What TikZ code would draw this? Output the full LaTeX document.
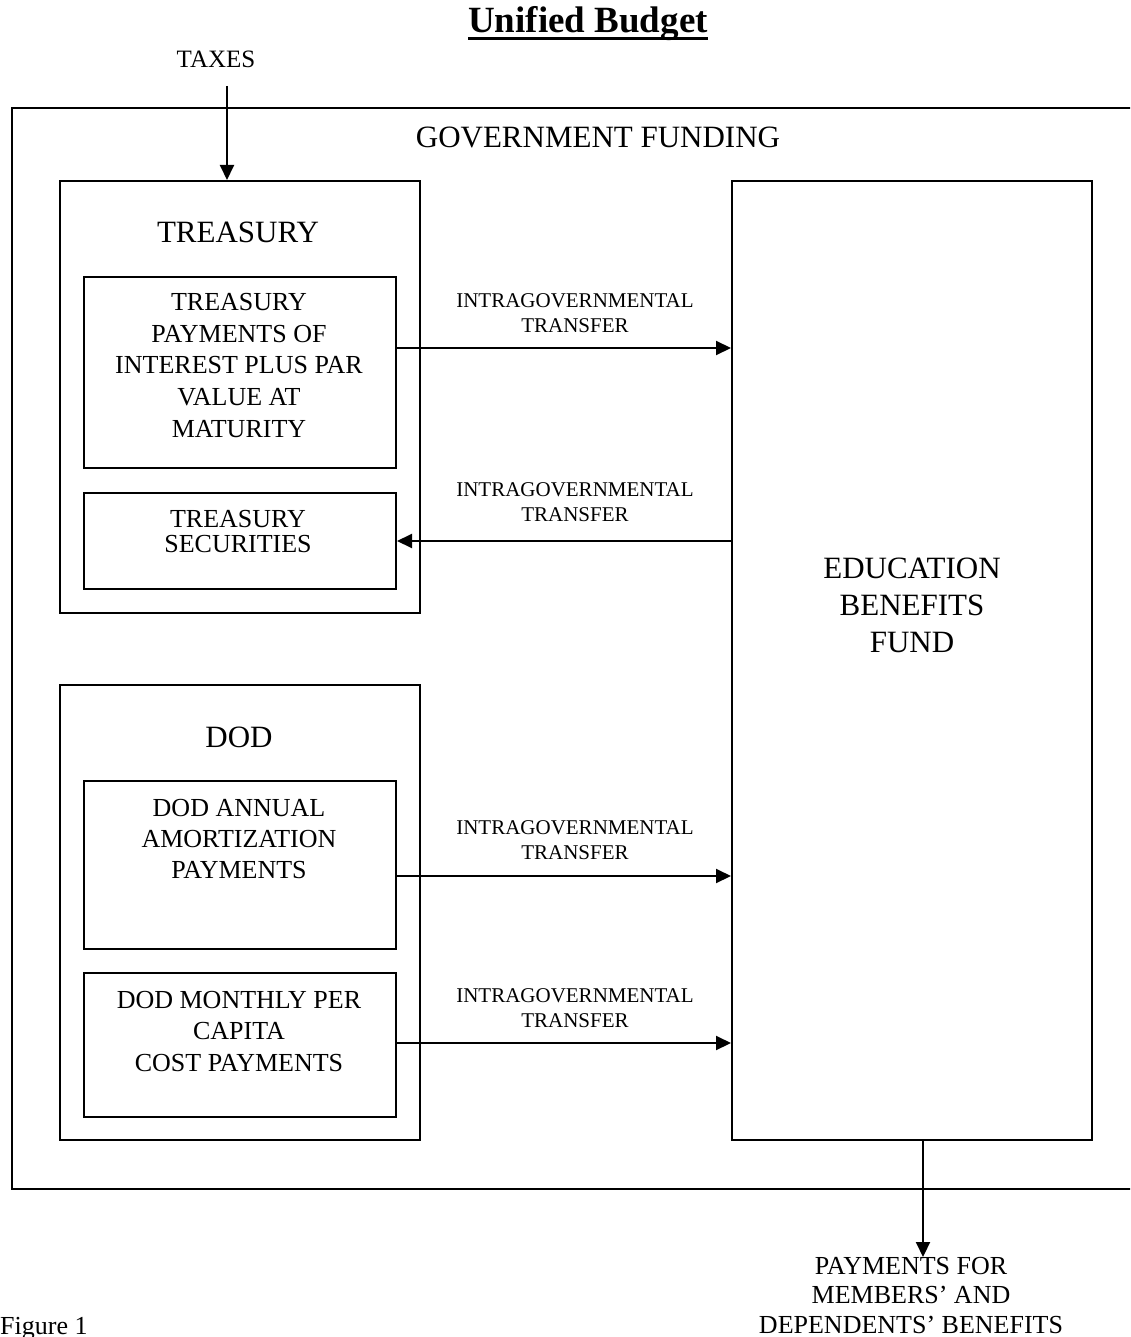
\documentclass[tikz,border=0pt]{standalone}
\usepackage{fontspec}
\setmainfont{Liberation Serif}
\usetikzlibrary{arrows.meta}

\tikzset{
  box/.style={draw, line width=2pt, rectangle, inner sep=0pt, anchor=north west},
  flow/.style={line width=2pt, -{Triangle[length=15pt,width=14pt]}},
  txt/.style={inner sep=0pt, align=center, anchor=north},
  inner text/.style={txt, font=\fontsize{26}{31.7}\selectfont},
  head text/.style={inner sep=0pt, anchor=base, font=\fontsize{31}{37}\selectfont},
  xfer text/.style={txt, font=\fontsize{21}{25.5}\selectfont},
}

\begin{document}
\begin{tikzpicture}[x=1pt, y=-1pt]
\useasboundingbox (0,0) rectangle (1130,1337);
\clip (0,0) rectangle (1130,1337);

% title
\node[inner sep=0pt, anchor=base, font=\fontsize{37}{44}\selectfont\bfseries] (title) at (588,33) {Unified Budget};
\draw[line width=3pt] ([yshift=-6pt]title.base west) -- ([yshift=-6pt]title.base east);

% outer frame (runs past the right edge)
\node[box, minimum width=1150pt, minimum height=1081pt] (gov) at (11,107) {};
\node[head text] (govlbl) at (598,148) {GOVERNMENT FUNDING};

% treasury group
\node[box, minimum width=360pt, minimum height=432pt] (treas) at (59,180) {};
\node[head text] (treaslbl) at (238,243) {TREASURY};
\node[box, minimum width=312pt, minimum height=191pt] (tpay) at (83,276) {};
\node[inner text] (tpaylbl) at (239,293) {TREASURY\\PAYMENTS OF\\INTEREST PLUS PAR\\VALUE AT\\MATURITY};
\node[box, minimum width=312pt, minimum height=96pt] (tsec) at (83,492) {};
\node[inner text, font=\fontsize{26}{25.5}\selectfont] (tseclbl) at (238,510) {TREASURY\\SECURITIES};

% DoD group
\node[box, minimum width=360pt, minimum height=455pt] (dod) at (59,684) {};
\node[head text] (dodlbl) at (239,747) {DOD};
\node[box, minimum width=312pt, minimum height=168pt] (damort) at (83,780) {};
\node[inner text, font=\fontsize{26}{31}\selectfont] (damortlbl) at (239,799) {DOD ANNUAL\\AMORTIZATION\\PAYMENTS};
\node[box, minimum width=312pt, minimum height=144pt] (dmonth) at (83,972) {};
\node[inner text, font=\fontsize{26}{31.5}\selectfont] (dmonthlbl) at (239,991) {DOD MONTHLY PER\\CAPITA\\COST PAYMENTS};

% fund
\node[box, minimum width=360pt, minimum height=959pt] (fund) at (731,180) {};
\node[txt, font=\fontsize{31}{37}\selectfont] (fundlbl) at (912,558) {EDUCATION\\BENEFITS\\FUND};

% taxes in
\node[inner sep=0pt, anchor=base, font=\fontsize{25}{30}\selectfont] (taxes) at (216,68) {TAXES};
\coordinate (taxtop) at (227,86);
\draw[flow] (taxtop) -- (taxtop |- treas.north);

% intragovernmental transfers
\draw[flow] (tpay.east |- 0,348) -- (fund.west |- 0,348);
\node[xfer text] (x1) at (575,293) {INTRAGOVERNMENTAL\\TRANSFER};
\draw[flow] (fund.west |- 0,541) -- (tsec.east |- 0,541);
\node[xfer text] (x2) at (575,482) {INTRAGOVERNMENTAL\\TRANSFER};
\draw[flow] (damort.east |- 0,876) -- (fund.west |- 0,876);
\node[xfer text] (x3) at (575,820) {INTRAGOVERNMENTAL\\TRANSFER};
\draw[flow] (dmonth.east |- 0,1043) -- (fund.west |- 0,1043);
\node[xfer text] (x4) at (575,988) {INTRAGOVERNMENTAL\\TRANSFER};

% benefit payments out
\node[txt, font=\fontsize{26}{29.5}\selectfont] (paylbl) at (911,1257) {PAYMENTS FOR\\MEMBERS’ AND\\DEPENDENTS’ BENEFITS};
\coordinate (paytip) at (923,1257);
\draw[flow] (fund.south -| paytip) -- (paytip);

% caption
\node[inner sep=0pt, anchor=base west, font=\fontsize{26}{30}\selectfont] (fig) at (0,1334) {Figure 1};
\end{tikzpicture}
\end{document}
